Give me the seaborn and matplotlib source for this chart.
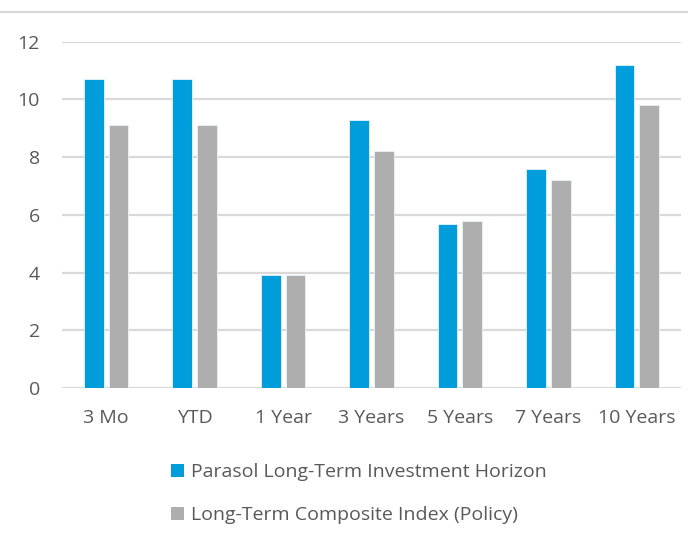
import matplotlib
matplotlib.use("Agg")
import matplotlib.pyplot as plt
import seaborn as sns
import pandas as pd
from matplotlib.patches import Patch
from matplotlib.lines import Line2D

categories = ["3 Mo", "YTD", "1 Year", "3 Years", "5 Years", "7 Years", "10 Years"]
parasol = [10.7, 10.7, 3.9, 9.3, 5.7, 7.6, 11.2]
policy = [9.1, 9.1, 3.9, 8.2, 5.8, 7.2, 9.8]
series_names = ["Parasol Long-Term Investment Horizon", "Long-Term Composite Index (Policy)"]
yticks = [0, 2, 4, 6, 8, 10, 12]

df = pd.DataFrame({
    "Period": categories * 2,
    "Value": parasol + policy,
    "Series": [series_names[0]] * len(categories) + [series_names[1]] * len(categories),
})

sns.set_theme(style="white")
plt.rcParams["font.family"] = ["Open Sans", "DejaVu Sans"]

BLUE = "#009DDC"
GRAY = "#ADAEAD"
TXT = "#595959"
GRID = "#D9D9D9"
FS = 14

fig = plt.figure(figsize=(6.88, 5.43), dpi=100)
ax = fig.add_axes([62/688, 1-388/543, (681-62)/688, (388-41.7)/543])

sns.barplot(data=df, x="Period", y="Value", hue="Series", order=categories,
            hue_order=series_names, palette=[BLUE, GRAY], saturation=1,
            width=0.56, gap=0.2, ax=ax, legend=False,
            edgecolor="#E8F4FA", linewidth=0.6, zorder=3)

ax.set_ylim(0, 12)
ax.set_xlim(-0.5, len(categories) - 0.5)
ax.set_yticks(yticks)
ax.set_yticklabels([str(t) for t in yticks])
ax.set_xlabel("")
ax.set_ylabel("")
for s in ax.spines.values():
    s.set_visible(False)
ax.yaxis.grid(True, color=GRID, linewidth=1.6, zorder=0)
ax.set_axisbelow(True)
ax.tick_params(axis="y", length=0, pad=16, labelsize=FS, labelcolor=TXT)
ax.tick_params(axis="x", length=0, pad=15, labelsize=FS, labelcolor=TXT)

handles = [Patch(facecolor=BLUE, edgecolor="none"), Patch(facecolor=GRAY, edgecolor="none")]
fig.legend(handles, series_names, loc="upper left", bbox_to_anchor=(171/688, 1-463/543),
           frameon=False, fontsize=FS, labelcolor=TXT, handlelength=0.65, handleheight=0.65,
           handletextpad=0.4, labelspacing=1.3, borderpad=0, borderaxespad=0)

fig.add_artist(Line2D([0, 1], [1-12/543, 1-12/543], transform=fig.transFigure,
                      color=GRID, linewidth=1.6))

fig.savefig("out.png", dpi=100)
